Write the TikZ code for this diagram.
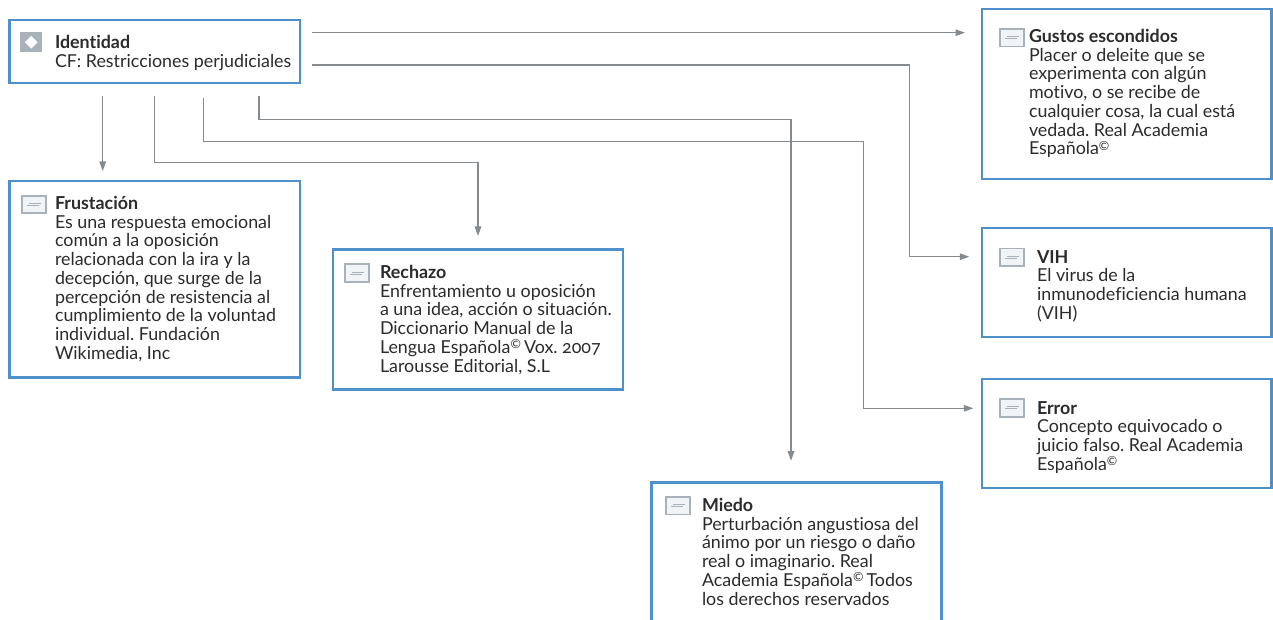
\documentclass[tikz,border=0pt]{standalone}
\usepackage{fontspec}
\setmainfont[Ligatures={NoCommon,TeX},Numbers=OldStyle]{Lato}
\usetikzlibrary{arrows.meta,calc}
\definecolor{boxblue}{HTML}{4F8FCB}
\definecolor{linegray}{HTML}{858A8E}
\definecolor{iconfill}{HTML}{A9B2BA}
\definecolor{iconback}{HTML}{F1F4F6}
\definecolor{inktext}{HTML}{2B2B2B}
\tikzset{
  conceptbox/.style={draw=boxblue,line width=2.8pt,fill=white,inner sep=0pt,outer sep=0pt,anchor=north west},
  conn/.style={draw=linegray,line width=1.1pt,-{Triangle[length=9.5pt,width=6.5pt]}},
  bodytext/.style={anchor=north west,inner sep=0pt,outer sep=0pt,align=left,text=inktext,
    font=\fontsize{17.85}{18.7}\selectfont\frenchspacing},
  noteframe/.style={draw=iconfill,line width=1.8pt,fill=iconback,inner sep=0pt,minimum width=24pt,minimum height=17.5pt,anchor=north west},
  notebar/.style={draw=iconfill,line width=.9pt},
  topicicon/.style={fill=iconfill,inner sep=0pt,minimum width=22pt,minimum height=19.4pt,anchor=north west},
  topicmark/.style={fill=white,inner sep=0pt,minimum width=9pt,minimum height=9pt,rotate=45},
}
\newcommand{\crt}{\textsuperscript{\raisebox{-0.25ex}{©}}}
\begin{document}
\begin{tikzpicture}[x=1pt,y=-1pt]
\useasboundingbox (0,0) rectangle (1273,620);
\fill[white] (0,0) rectangle (1273,620);
\begin{scope}
\clip (0,0) rectangle (1273,620);
\node[conceptbox,minimum width=290.5pt,minimum height=63pt] (id) at (9.5,20) {};
\node[conceptbox,minimum width=290.5pt,minimum height=196.5pt] (fru) at (9.5,181) {};
\node[conceptbox,minimum width=290pt,minimum height=140pt] (rec) at (333,249.5) {};
\node[conceptbox,minimum width=290pt,minimum height=160pt] (mie) at (651.5,482.5) {};
\node[conceptbox,minimum width=289.5pt,minimum height=170pt] (gus) at (982,9) {};
\node[conceptbox,minimum width=289.5pt,minimum height=109pt] (vih) at (982,228) {};
\node[conceptbox,minimum width=289.5pt,minimum height=109pt] (err) at (982,379) {};
\end{scope}
% connectors
\draw[conn] ([shift={(93.2,76)}]id.north west) -- ([shift={(93.2,-10)}]fru.north west);
\draw[conn] ([shift={(145,76)}]id.north west) |- ($(id.north west)+(468.5,142.3)$) -- ([shift={(145,-13.5)}]rec.north west);
\draw[conn] ([shift={(194.2,78)}]id.north west) |- ($(id.north west)+(854,121.3)$) |- ([shift={(-8.7,29.3)}]err.north west);
\draw[conn] ([shift={(249.5,76)}]id.north west) |- ($(id.north west)+(781.5,99.3)$) -- ([shift={(139.5,-21.8)}]mie.north west);
\draw[conn] ([shift={(302.5,12.7)}]id.north west) -- ([shift={(-17,23.7)}]gus.north west);
\draw[conn] ([shift={(302.5,45)}]id.north west) -| ($(id.north west)+(900,100)$) |- ([shift={(-12.7,28.7)}]vih.north west);
% icons
\node[topicicon] (iconid) at (20,32.3) {};
\node[topicmark] (markid) at (iconid.center) {};
\foreach \n/\x/\y in {fru/21/195, rec/344.3/263.3, mie/665.3/496, gus/999.2/28.2, vih/998.7/247.7, err/998.7/398.2}{
  \node[noteframe] (icon\n) at (\x,\y) {};
  \draw[notebar] ([shift={(-5,-1)}]icon\n.center) -- ([shift={(7,-1)}]icon\n.center);
  \draw[notebar] ([shift={(-7,1)}]icon\n.center) -- ([shift={(5,1)}]icon\n.center);
}
% texts
\node[bodytext] (tid) at (55,35.3) {\textbf{Identidad}\\CF: Restricciones perjudiciales};
\node[bodytext] (tfru) at (55,196.3) {\textbf{Frustación}\\Es una respuesta emocional\\común a la oposición\\relacionada con la ira y la\\decepción, que surge de la\\percepción de resistencia al\\cumplimiento de la voluntad\\individual. Fundación\\Wikimedia, Inc};
\node[bodytext] (trec) at (380,265.3) {\textbf{Rechazo}\\Enfrentamiento u oposición\\a una idea, acción o situación.\\Diccionario Manual de la\\Lengua Española\crt\hspace{.15em}Vox. 2007\\Larousse Editorial, S.L};
\node[bodytext] (tmie) at (702,498.3) {\textbf{Miedo}\\Perturbación angustiosa del\\ánimo por un riesgo o daño\\real o imaginario. Real\\Academia Española\crt\hspace{.15em}Todos\\los derechos reservados};
\node[bodytext] (tgus) at (1029,29.3) {\textbf{Gustos escondidos}\\Placer o deleite que se\\experimenta con algún\\motivo, o se recibe de\\cualquier cosa, la cual está\\vedada. Real Academia\\Española\crt};
\node[bodytext] (tvih) at (1037,250.3) {\textbf{VIH}\\El virus de la\\inmunodeficiencia humana\\(VIH)};
\node[bodytext] (terr) at (1037,401.3) {\textbf{Error}\\Concepto equivocado o\\juicio falso. Real Academia\\Española\crt};
\end{tikzpicture}
\end{document}
